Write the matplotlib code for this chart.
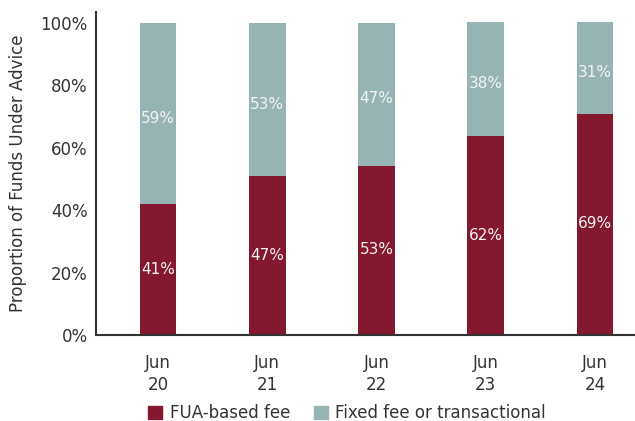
import matplotlib
matplotlib.use("Agg")
import matplotlib.pyplot as plt
from matplotlib.patches import Patch

categories = ["Jun\n20", "Jun\n21", "Jun\n22", "Jun\n23", "Jun\n24"]
fua_values = [41.8, 50.8, 54.2, 63.6, 70.8]
fixed_values = [58.2, 49.2, 45.8, 36.6, 29.4]
fua_labels = ["41%", "47%", "53%", "62%", "69%"]
fixed_labels = ["59%", "53%", "47%", "38%", "31%"]
yticks = [0, 20, 40, 60, 80, 100]
ytick_labels = ["0%", "20%", "40%", "60%", "80%", "100%"]

RED = "#84182E"
GREY = "#97B4B5"
TXT = "#333333"

plt.rcParams['font.family'] = ['DejaVu Sans']

fig = plt.figure(figsize=(6.35, 4.21), dpi=100)
ax = fig.add_axes([96/635, 1 - 335/421, 1 - 96/635, (335 - 12)/421])

x = list(range(len(categories)))
w = 0.335
ax.bar(x, fua_values, width=w, color=RED)
ax.bar(x, fixed_values, width=w, bottom=fua_values, color=GREY)

for i in x:
    ax.text(i, fua_values[i] / 2 + 0.2, fua_labels[i], ha="center", va="center",
            color="#f4f4f4", fontsize=11)
    ax.text(i, fua_values[i] + fixed_values[i] / 2 - 1.5, fixed_labels[i], ha="center",
            va="center", color="#f4f4f4", fontsize=11)

ax.set_xlim(-0.567, 4.366)
ax.set_ylim(0, 103.4)
ax.set_yticks(yticks)
ax.set_yticklabels(ytick_labels, fontsize=12, color=TXT)
ax.set_xticks(x)
ax.set_xticklabels(categories, fontsize=12, color=TXT, linespacing=1.25)
ax.tick_params(axis="both", length=0)
ax.tick_params(axis="y", pad=6)
ax.tick_params(axis="x", pad=14)
for s in ["top", "right"]:
    ax.spines[s].set_visible(False)
for s in ["left", "bottom"]:
    ax.spines[s].set_color("#333333")
    ax.spines[s].set_linewidth(1.5)

fig.text(18/635, 1 - 173/421, "Proportion of Funds Under Advice", rotation=90,
         ha="center", va="center", fontsize=12, color=TXT)

handles = [Patch(color=RED, label="FUA-based fee"),
           Patch(color=GREY, label="Fixed fee or transactional")]
fig.legend(handles=handles, loc="center", bbox_to_anchor=(347/635, 1 - 413/421),
           ncol=2, frameon=False, fontsize=12, handlelength=0.85, handleheight=0.8,
           handletextpad=0.45, columnspacing=1.4, labelcolor=TXT)

fig.savefig("out.png", dpi=100)
